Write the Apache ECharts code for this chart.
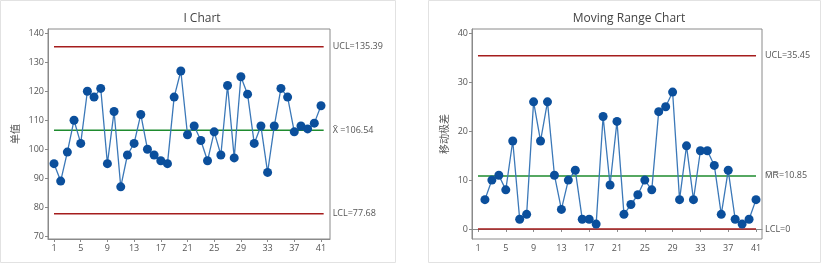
<!DOCTYPE html>
<html><head><meta charset="utf-8">
<script src="https://cdn.jsdelivr.net/npm/echarts@6/dist/echarts.min.js"></script>
<style>html,body{margin:0;padding:0;background:#fff}#c{width:822px;height:265px}</style>
</head><body><div id="c"></div>
<script>
// ---- data ----
const obsIndex = [1,2,3,4,5,6,7,8,9,10,11,12,13,14,15,16,17,18,19,20,21,22,23,24,25,26,27,28,29,30,31,32,33,34,35,36,37,38,39,40,41];
const individualValues = [95,89,99,110,102,120,118,121,95,113,87,98,102,112,100,98,96,95,118,127,105,108,103,96,106,98,122,97,125,119,102,108,92,108,121,118,106,108,107,109,115];
const mrIndex = [2,3,4,5,6,7,8,9,10,11,12,13,14,15,16,17,18,19,20,21,22,23,24,25,26,27,28,29,30,31,32,33,34,35,36,37,38,39,40,41];
const movingRanges = [6,10,11,8,18,2,3,26,18,26,11,4,10,12,2,2,1,23,9,22,3,5,7,10,8,24,25,28,6,17,6,16,16,13,3,12,2,1,2,6];
const iLimits = {ucl:135.39, center:106.54, lcl:77.68};
const mrLimits = {ucl:35.45, center:10.85, lcl:0};
const xTickLabels = [1,5,9,13,17,21,25,29,33,37,41];
const iYTicks = [70,80,90,100,110,120,130,140];
const mrYTicks = [0,10,20,30,40];
const titles = ['I Chart','Moving Range Chart'];
const yNames = ['单值','移动极差'];

const FONT = '"Open Sans","Noto Sans CJK SC",sans-serif';
const chart = echarts.init(document.getElementById('c'), null, {renderer:'canvas'});

function xAxisCfg(gi, min, max){
  return {type:'value', gridIndex:gi, min:min, max:max,
    axisLine:{show:true, lineStyle:{color:'#8a8a8a'}},
    splitLine:{show:false},
    axisTick:{show:true, length:3, customValues:xTickLabels, lineStyle:{color:'#8a8a8a'}},
    axisLabel:{customValues:xTickLabels, color:'#555', fontSize:9, fontFamily:FONT, margin:5}};
}
function yAxisCfg(gi, min, max, ticks, name, gap){
  return {type:'value', gridIndex:gi, min:min, max:max, name:name, nameLocation:'middle', nameGap:gap,
    nameTextStyle:{color:'#555', fontSize:10, fontFamily:FONT},
    axisLine:{show:true, lineStyle:{color:'#8a8a8a'}},
    splitLine:{show:false},
    axisTick:{show:true, length:3, customValues:ticks, lineStyle:{color:'#8a8a8a'}},
    axisLabel:{customValues:ticks, color:'#555', fontSize:9, fontFamily:FONT, margin:4}};
}
function limitLine(gi, y, x0, x1, color, text){
  return {type:'line', xAxisIndex:gi, yAxisIndex:gi, data:[[x0,y],[x1,y]], symbol:'none', silent:true,
    lineStyle:{color:color, width:1.5}, z:1,
    endLabel:{show:true, formatter:text, color:'#555', fontSize:9, fontFamily:FONT, distance:9}};
}
function dataLine(gi, xs, ys){
  return {type:'line', xAxisIndex:gi, yAxisIndex:gi, data:xs.map((x,i)=>[x,ys[i]]),
    symbol:'circle', symbolSize:9, z:3,
    lineStyle:{color:'#3b78b8', width:1.3},
    itemStyle:{color:'#0b4f9c'}};
}
const RED = '#a51d1d', GREEN = '#1e8b2e';

chart.setOption({
  backgroundColor:'#fff',
  animation:false,
  title:[
    {text:titles[0], left:197, top:8, textAlign:'center', textStyle:{fontSize:12, fontWeight:'normal', color:'#444', fontFamily:FONT}},
    {text:titles[1], left:624, top:8, textAlign:'center', textStyle:{fontSize:12, fontWeight:'normal', color:'#444', fontFamily:FONT}}
  ],
  graphic:[
    {type:'rect', shape:{x:0.5, y:0.5, width:395, height:262}, style:{fill:null, stroke:'#e2e2e2', lineWidth:1}, silent:true},
    {type:'rect', shape:{x:428.5, y:0.5, width:392, height:262}, style:{fill:null, stroke:'#e2e2e2', lineWidth:1}, silent:true}
  ],
  grid:[
    {left:48, top:29, width:282, height:210, show:true, borderColor:'#8a8a8a', borderWidth:1, backgroundColor:'#fff'},
    {left:472, top:29, width:290, height:210, show:true, borderColor:'#8a8a8a', borderWidth:1, backgroundColor:'#fff'}
  ],
  xAxis:[ xAxisCfg(0, 0.1, 42.35), xAxisCfg(1, 0.14, 41.86) ],
  yAxis:[ yAxisCfg(0, 69, 141.5, iYTicks, yNames[0], 27), yAxisCfg(1, -2.05, 40.9, mrYTicks, yNames[1], 22) ],
  series:[
    limitLine(0, iLimits.ucl, 1, 41.4, RED, 'UCL=' + iLimits.ucl.toFixed(2)),
    limitLine(0, iLimits.center, 1, 41.4, GREEN, 'X\u0304 =' + iLimits.center.toFixed(2)),
    limitLine(0, iLimits.lcl, 1, 41.4, RED, 'LCL=' + iLimits.lcl.toFixed(2)),
    dataLine(0, obsIndex, individualValues),
    limitLine(1, mrLimits.ucl, 1, 41, RED, 'UCL=' + mrLimits.ucl.toFixed(2)),
    limitLine(1, mrLimits.center, 1, 41, GREEN, 'M\u0305R\u0305=' + mrLimits.center.toFixed(2)),
    limitLine(1, mrLimits.lcl, 1, 41, RED, 'LCL=' + mrLimits.lcl),
    dataLine(1, mrIndex, movingRanges)
  ]
});
</script></body></html>
